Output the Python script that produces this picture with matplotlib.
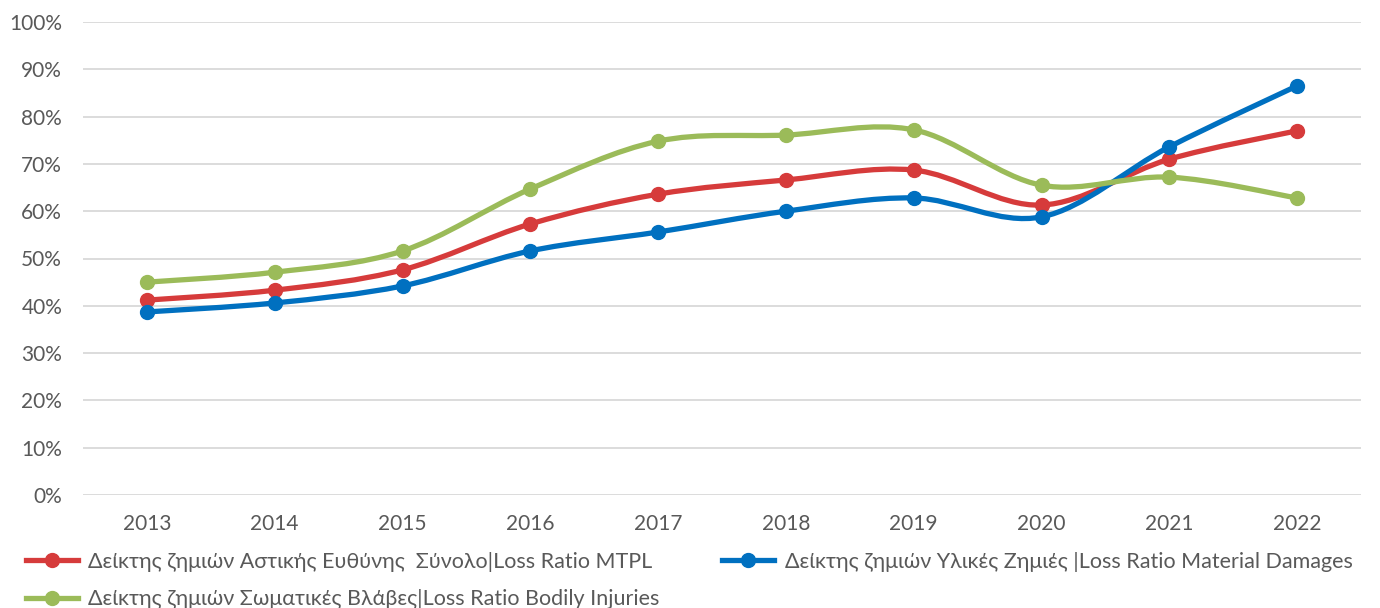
import matplotlib
matplotlib.use("Agg")
import matplotlib.pyplot as plt
from matplotlib.path import Path
from matplotlib.patches import PathPatch
from matplotlib.lines import Line2D
from matplotlib.ticker import PercentFormatter

# Loss ratios per year
years = ["2013", "2014", "2015", "2016", "2017", "2018", "2019", "2020", "2021", "2022"]
mtpl = [0.412, 0.433, 0.476, 0.573, 0.636, 0.666, 0.687, 0.613, 0.710, 0.770]
material = [0.387, 0.406, 0.442, 0.516, 0.556, 0.600, 0.628, 0.588, 0.736, 0.865]
bodily = [0.450, 0.471, 0.516, 0.647, 0.748, 0.761, 0.772, 0.655, 0.672, 0.628]

labels = [
    "Δείκτης ζημιών Αστικής Ευθύνης  Σύνολο|Loss Ratio MTPL",
    "Δείκτης ζημιών Υλικές Ζημιές |Loss Ratio Material Damages",
    "Δείκτης ζημιών Σωματικές Βλάβες|Loss Ratio Bodily Injuries",
]
colors = ["#D63B3B", "#0070C0", "#9BBB59"]

plt.rcParams["font.family"] = ["Lato", "Noto Sans", "DejaVu Sans"]
text_color = "#595959"


def smooth_path(xs, ys):
    # Excel-like smoothed line: cubic bezier segments through every point
    verts = [(xs[0], ys[0])]
    codes = [Path.MOVETO]
    n = len(xs)
    for i in range(n - 1):
        x0, y0 = (xs[i - 1], ys[i - 1]) if i > 0 else (xs[i], ys[i])
        x1, y1 = xs[i], ys[i]
        x2, y2 = xs[i + 1], ys[i + 1]
        x3, y3 = (xs[i + 2], ys[i + 2]) if i + 2 < n else (xs[i + 1], ys[i + 1])
        c1 = (x1 + (x2 - x0) / 6, y1 + (y2 - y0) / 6)
        c2 = (x2 - (x3 - x1) / 6, y2 - (y3 - y1) / 6)
        verts += [c1, c2, (x2, y2)]
        codes += [Path.CURVE4] * 3
    return Path(verts, codes)


fig = plt.figure(figsize=(13.8, 6.08), dpi=100)
ax = fig.add_axes([83 / 1380, 1 - 495 / 608, 1278 / 1380, 473 / 608])

xs = list(range(len(years)))
for values, color in zip([mtpl, material, bodily], colors):
    patch = PathPatch(smooth_path(xs, values), facecolor="none", edgecolor=color,
                      lw=3.8, capstyle="round", joinstyle="round")
    ax.add_patch(patch)
    ax.plot(xs, values, "o", color=color, markersize=10, clip_on=False)

ax.set_xlim(-0.5, len(years) - 0.5)
ax.set_ylim(0, 1.0)
ax.set_yticks([i / 10 for i in range(11)])
ax.yaxis.set_major_formatter(PercentFormatter(1.0, decimals=0))
ax.set_xticks(xs)
ax.set_xticklabels(years)
ax.grid(axis="y", color="#D9D9D9", lw=1.3)
ax.set_axisbelow(True)
for side in ["top", "right", "left", "bottom"]:
    ax.spines[side].set_visible(False)
ax.tick_params(axis="both", length=0, labelsize=15, colors=text_color)
ax.tick_params(axis="y", pad=15)
ax.tick_params(axis="x", pad=14)

# legend: red + green in first column, blue in second
handles = [Line2D([], [], color=c, lw=3.8, marker="o", markersize=10) for c in colors]
order = [0, 2, 1]
leg = fig.legend([handles[i] for i in order], [labels[i] for i in order],
                 loc="upper left", bbox_to_anchor=(0.011, 0.11), ncol=2,
                 frameon=False, fontsize=15.5, handlelength=2.4, handletextpad=0.5,
                 columnspacing=2.9, labelspacing=0.8, borderpad=0)
for t in leg.get_texts():
    t.set_color(text_color)

fig.savefig("out.png", dpi=100)
